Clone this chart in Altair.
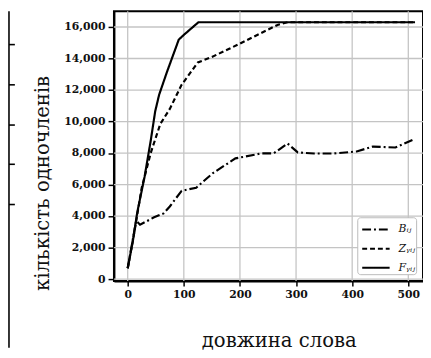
import altair as alt
import pandas as pd

# ---- data ----
series_names = ["Bᵢⱼ", "Zᵧᵢⱼ", "Fᵧᵢⱼ"]

b_x = [0, 15, 22, 47, 64, 75, 96, 122, 152, 192, 239, 260, 285, 303, 332, 367, 408, 437, 477, 512]
b_y = [690, 3700, 3450, 3920, 4170, 4610, 5600, 5800, 6730, 7660, 7980, 7980, 8600, 8040, 7970, 7970, 8100, 8410, 8350, 8900]

z_x = [0, 12, 25, 41, 58, 75, 96, 125, 150, 180, 220, 267, 285, 512]
z_y = [690, 3000, 5800, 8000, 9840, 10800, 12330, 13750, 14100, 14600, 15300, 16130, 16300, 16300]

f_x = [0, 9, 17, 30, 41, 49, 56, 70, 91, 100, 126, 512]
f_y = [690, 2370, 4230, 6480, 8780, 10650, 11700, 13150, 15200, 15500, 16300, 16300]

x_ticks = [0, 100, 200, 300, 400, 500]
y_ticks = [0, 2000, 4000, 6000, 8000, 10000, 12000, 14000, 16000]

x_title = "довжина слова"
y_title = "кількість одночленів"

rows = []
for name, xs, ys in [(series_names[0], b_x, b_y), (series_names[1], z_x, z_y), (series_names[2], f_x, f_y)]:
    for xv, yv in zip(xs, ys):
        rows.append({"series": name, "x": xv, "y": yv})
df = pd.DataFrame(rows)

FONT = "DejaVu Serif"
GRID = "#c4c4c4"
W, H = 315, 275

x_scale = alt.Scale(domain=[-24.5, 526.2], nice=False, zero=False)
y_scale = alt.Scale(domain=[-125, 17000], nice=False, zero=False)

x_axis = alt.Axis(
    grid=False, values=x_ticks, title=x_title, titleFont=FONT, titleFontSize=20,
    titleFontWeight="normal", titleColor="#111", titleX=168, titleY=71, titleAlign="center",
    titleBaseline="bottom", labelFont=FONT, labelFontSize=11, labelFontWeight="bold",
    labelColor="#111", labelPadding=3, tickSize=5, tickColor="black",
    tickWidth=1.5, domainColor="black", domainWidth=2,
)
y_axis = alt.Axis(
    grid=False, values=y_ticks, title=y_title, titleFont=FONT, titleFontSize=20,
    titleFontWeight="normal", titleColor="#111", titleX=-63, titleY=175, titleAlign="center",
    titleBaseline="bottom", titleAngle=270, labelFont=FONT, labelFontSize=11,
    labelFontWeight="bold", labelColor="#111", labelPadding=3, tickSize=6,
    tickColor="black", tickWidth=1.5, domainColor="black", domainWidth=2,
)

legend = alt.Legend(
    title=None, orient="none", legendX=248, legendY=210,
    symbolType="M-0.71,0H1.95", symbolSize=441, symbolStrokeWidth=2,
    symbolStrokeColor="black", labelFont=FONT, labelFontStyle="italic", labelFontSize=11,
    labelColor="#111", labelOffset=18, padding=1, rowPadding=2.5,
    fillColor="white", strokeColor="#bbbbbb", cornerRadius=3,
    labelExpr="datum.label + '\u00a0\u00a0\u00a0\u00a0\u00a0\u00a0\u00a0'",
)

grid_x = alt.Chart(pd.DataFrame({"gx": x_ticks})).mark_rule(color=GRID, strokeWidth=1.3).encode(
    x=alt.X("gx:Q", scale=x_scale, axis=x_axis),
    y=alt.value(0), y2=alt.value(H),
)
grid_y = alt.Chart(pd.DataFrame({"gy": y_ticks})).mark_rule(color=GRID, strokeWidth=1.3).encode(
    y=alt.Y("gy:Q", scale=y_scale, axis=y_axis),
    x=alt.value(0), x2=alt.value(W),
)

lines = alt.Chart(df).mark_line(color="black", strokeWidth=2.2, clip=True).encode(
    x=alt.X("x:Q", scale=x_scale, axis=x_axis),
    y=alt.Y("y:Q", scale=y_scale, axis=y_axis),
    strokeDash=alt.StrokeDash(
        "series:N",
        scale=alt.Scale(domain=series_names, range=[[9, 3, 2, 3], [5, 3], [1, 0]]),
        legend=legend,
    ),
)

one = pd.DataFrame({"a": [0]})
decor = [
    alt.Chart(one).mark_rule(color="black", strokeWidth=1.6).encode(
        x=alt.value(-107), y=alt.value(0), y2=alt.value(343)
    )
]
for ty in [34, 75, 116, 156, 197]:
    decor.append(
        alt.Chart(one).mark_rule(color="black", strokeWidth=1.6).encode(
            x=alt.value(-107), x2=alt.value(-101), y=alt.value(ty)
        )
    )

chart = alt.layer(grid_x, grid_y, lines, *decor).properties(
    width=W, height=H, autosize="none",
    padding={"left": 108, "top": 0, "right": 0, "bottom": 68},
).configure_view(stroke="black", strokeWidth=2)

chart.save("out.html", embed_options={"renderer": "svg", "actions": False})
